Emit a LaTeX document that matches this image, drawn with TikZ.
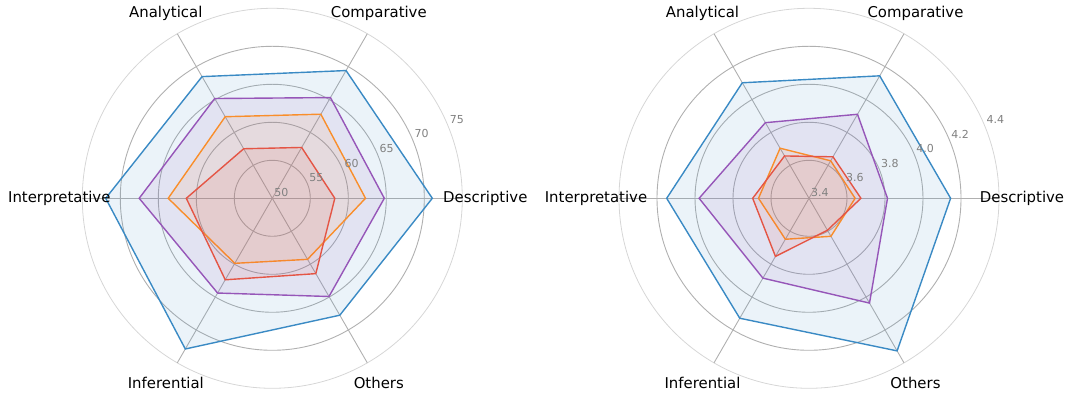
\documentclass[tikz,border=0pt]{standalone}
\usepackage{fontspec}
\setmainfont{DejaVu Sans}
\usepackage{tikz}
\definecolor{radarblue}{RGB}{58, 138, 196}
\definecolor{radarpurple}{RGB}{150, 86, 184}
\definecolor{radarorange}{RGB}{249, 142, 43}
\definecolor{radarred}{RGB}{228, 85, 69}
\definecolor{gridgray}{RGB}{176, 176, 176}
\definecolor{rimgray}{RGB}{214, 214, 214}
\definecolor{tickgray}{RGB}{128, 128, 128}

\begin{document}
\begin{tikzpicture}[x=1pt, y=1pt,
        ring/.style={gridgray, line width=0.9pt},
        rim/.style={rimgray, line width=0.8pt},
        spoke/.style={gridgray, line width=0.9pt},
        plotline/.style={#1, line width=1.4pt, fill=#1, fill opacity=0.1},
        axislabel/.style={font=\fontsize{14.9}{17}\selectfont, inner sep=0pt},
        ticklabel/.style={font=\fontsize{11}{13}\selectfont, text=tickgray, anchor=south west, inner sep=1.8pt}]
            \useasboundingbox (0,0) rectangle (1070,395);
            % LEFT chart
            \begin{scope}[shift={(272.3,196.7)}]
                % Grid
                \draw[ring]  (0,0) circle (38pt);
                \draw[ring]  (0,0) circle (76pt);
                \draw[ring]  (0,0) circle (114pt);
                \draw[ring]  (0,0) circle (152pt);
                \draw[rim]   (0,0) circle (190pt);
                \draw[spoke] (  0:190pt) -- (180:190pt);
                \draw[spoke] ( 60:190pt) -- (240:190pt);
                \draw[spoke] (120:190pt) -- (300:190pt);
                % Series
                \draw[plotline=radarblue]   (0:160.0pt) -- (60:147.5pt) -- (120:140.5pt) -- (180:166.6pt) -- (240:174.0pt) -- (300:135.0pt) -- cycle;
                \draw[plotline=radarpurple] (0:112.0pt) -- (60:116.3pt) -- (120:115.2pt) -- (180:133.1pt) -- (240:109.4pt) -- (300:113.4pt) -- cycle;
                \draw[plotline=radarorange] (0: 93.2pt) -- (60: 97.1pt) -- (120: 94.2pt) -- (180:104.1pt) -- (240: 75.1pt) -- (300: 70.5pt) -- cycle;
                \draw[plotline=radarred]    (0: 62.5pt) -- (60: 58.7pt) -- (120: 57.2pt) -- (180: 86.0pt) -- (240: 94.1pt) -- (300: 87.0pt) -- cycle;
                % Radial ticks
                \node[ticklabel] (lt50) at (22.5:  0pt) {50};
                \node[ticklabel] (lt55) at (22.5: 38pt) {55};
                \node[ticklabel] (lt60) at (22.5: 76pt) {60};
                \node[ticklabel] (lt65) at (22.5:114pt) {65};
                \node[ticklabel] (lt70) at (22.5:152pt) {70};
                \node[ticklabel] (lt75) at (22.5:190pt) {75};
                % Axis labels
                \node[axislabel] (ldesc)   at (  0:213pt) {Descriptive};
                \node[axislabel] (lcomp)   at ( 60:213pt) {Comparative};
                \node[axislabel] (lanal)   at (120:213pt) {Analytical};
                \node[axislabel] (linterp) at (180:213pt) {Interpretative};
                \node[axislabel] (linfer)  at (240:213pt) {Inferential};
                \node[axislabel] (lother)  at (300:213pt) {Others};
            \end{scope}
            % RIGHT chart
            \begin{scope}[shift={(809,196.7)}]
                % Grid
                \draw[ring]  (0,0) circle (38pt);
                \draw[ring]  (0,0) circle (76pt);
                \draw[ring]  (0,0) circle (114pt);
                \draw[ring]  (0,0) circle (152pt);
                \draw[rim]   (0,0) circle (190pt);
                \draw[spoke] (  0:190pt) -- (180:190pt);
                \draw[spoke] ( 60:190pt) -- (240:190pt);
                \draw[spoke] (120:190pt) -- (300:190pt);
                % Series
                \draw[plotline=radarblue]   (0:141.6pt) -- (60:141.4pt) -- (120:133.4pt) -- (180:142.3pt) -- (240:138.5pt) -- (300:176.2pt) -- cycle;
                \draw[plotline=radarpurple] (0: 78.5pt) -- (60: 97.0pt) -- (120: 87.3pt) -- (180:109.9pt) -- (240: 92.2pt) -- (300:121.0pt) -- cycle;
                \draw[plotline=radarorange] (0: 46.1pt) -- (60: 43.3pt) -- (120: 57.8pt) -- (180: 50.5pt) -- (240: 47.3pt) -- (300: 43.9pt) -- cycle;
                \draw[plotline=radarred]    (0: 51.9pt) -- (60: 47.9pt) -- (120: 48.9pt) -- (180: 56.3pt) -- (240: 67.1pt) -- (300: 36.9pt) -- cycle;
                % Radial ticks
                \node[ticklabel] (rt34) at (22.5:  0pt) {3.4};
                \node[ticklabel] (rt36) at (22.5: 38pt) {3.6};
                \node[ticklabel] (rt38) at (22.5: 76pt) {3.8};
                \node[ticklabel] (rt40) at (22.5:114pt) {4.0};
                \node[ticklabel] (rt42) at (22.5:152pt) {4.2};
                \node[ticklabel] (rt44) at (22.5:190pt) {4.4};
                % Axis labels
                \node[axislabel] (rdesc)   at (  0:213pt) {Descriptive};
                \node[axislabel] (rcomp)   at ( 60:213pt) {Comparative};
                \node[axislabel] (ranal)   at (120:213pt) {Analytical};
                \node[axislabel] (rinterp) at (180:213pt) {Interpretative};
                \node[axislabel] (rinfer)  at (240:213pt) {Inferential};
                \node[axislabel] (rother)  at (300:213pt) {Others};
            \end{scope}
        \end{tikzpicture}
\end{document}
